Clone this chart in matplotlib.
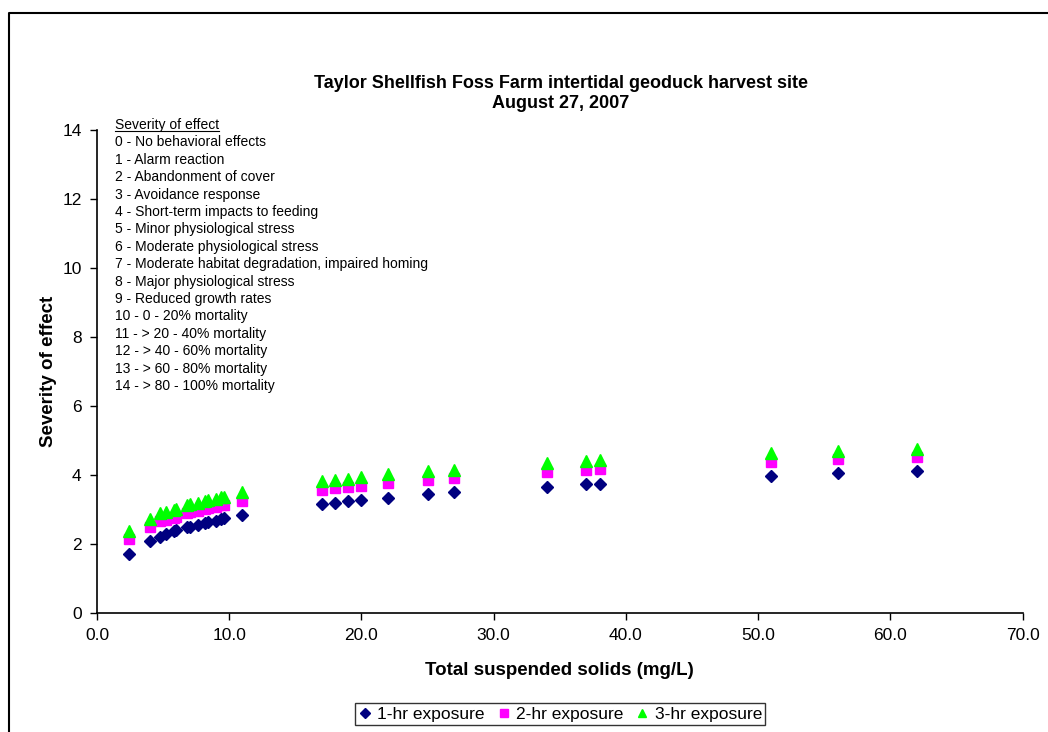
import matplotlib.pyplot as plt
from matplotlib.lines import Line2D

plt.rcParams['font.family'] = ['Liberation Sans', 'DejaVu Sans']

# Total suspended solids (mg/L)
tss = [2.4, 4.0, 4.8, 5.2, 5.8, 6.0, 6.8, 7.0, 7.6, 8.2, 8.4, 9.0, 9.4, 9.6, 11.0,
       17, 18, 19, 20, 22, 25, 27, 34, 37, 38, 51, 56, 62]

# Severity of effect for each exposure duration
sev_1hr = [1.70, 2.08, 2.20, 2.27, 2.37, 2.40, 2.48, 2.50, 2.55, 2.61, 2.63, 2.67, 2.72, 2.74, 2.83,
           3.14, 3.19, 3.23, 3.27, 3.34, 3.43, 3.49, 3.65, 3.72, 3.74, 3.96, 4.04, 4.11]
sev_2hr = [2.13, 2.49, 2.65, 2.69, 2.76, 2.78, 2.90, 2.92, 2.96, 3.02, 3.04, 3.07, 3.11, 3.13, 3.25,
           3.57, 3.61, 3.65, 3.68, 3.76, 3.86, 3.92, 4.08, 4.15, 4.17, 4.38, 4.45, 4.52]
sev_3hr = [2.37, 2.72, 2.88, 2.92, 2.99, 3.02, 3.13, 3.15, 3.19, 3.25, 3.27, 3.31, 3.35, 3.37, 3.49,
           3.81, 3.86, 3.89, 3.93, 4.01, 4.10, 4.15, 4.33, 4.40, 4.43, 4.62, 4.70, 4.76]

severity_key = [
    "0 - No behavioral effects",
    "1 - Alarm reaction",
    "2 - Abandonment of cover",
    "3 - Avoidance response",
    "4 - Short-term impacts to feeding",
    "5 - Minor physiological stress",
    "6 - Moderate physiological stress",
    "7 - Moderate habitat degradation, impaired homing",
    "8 - Major physiological stress",
    "9 - Reduced growth rates",
    "10 - 0 - 20% mortality",
    "11 - > 20 - 40% mortality",
    "12 - > 40 - 60% mortality",
    "13 - > 60 - 80% mortality",
    "14 - > 80 - 100% mortality",
]

W, H = 1048, 732
fig = plt.figure(figsize=(W / 100, H / 100), dpi=100)
# plot area in pixels: x 97..1022.7, y 130..612.7
ax = fig.add_axes([97 / W, 1 - 612.7 / H, (1022.7 - 97) / W, (612.7 - 130) / H])

ax.plot(tss, sev_1hr, ls='none', marker='D', ms=6.3, color='#000080', label='1-hr exposure')
ax.plot(tss, sev_2hr, ls='none', marker='s', ms=6.8, color='#FF00FF', label='2-hr exposure')
ax.plot(tss, sev_3hr, ls='none', marker='^', ms=8, color='#00FF00', label='3-hr exposure')

ax.set_xlim(0, 70)
ax.set_ylim(0, 14)
ax.set_xticks(range(0, 71, 10))
ax.set_xticklabels([f"{v:.1f}" for v in range(0, 71, 10)])
ax.set_yticks(range(0, 15, 2))
ax.tick_params(labelsize=12.5, direction='out', length=5, width=1, pad=6)
for side in ['top', 'right']:
    ax.spines[side].set_visible(False)
for side in ['left', 'bottom']:
    ax.spines[side].set_linewidth(1.2)

ax.set_xlabel("Total suspended solids (mg/L)", fontsize=13.5, fontweight='bold', labelpad=14)
ax.set_ylabel("Severity of effect", fontsize=13.5, fontweight='bold', labelpad=4)

fig.text(0.535, 1 - 83 / H, "Taylor Shellfish Foss Farm intertidal geoduck harvest site",
         ha='center', va='center', fontsize=13, fontweight='bold')
fig.text(0.535, 1 - 103 / H, "August 27, 2007",
         ha='center', va='center', fontsize=13, fontweight='bold')

# severity key text block
x_txt = 115 / W
line_h = 17.4
hdr = fig.text(x_txt, 1 - 125 / H, "Severity of effect", ha='left', va='center', fontsize=10)
for i, s in enumerate(severity_key):
    fig.text(x_txt, 1 - (125 + line_h * (i + 1)) / H, s, ha='left', va='center', fontsize=10)

fig.canvas.draw()
bb = hdr.get_window_extent()
fig.add_artist(Line2D([bb.x0 / W, bb.x1 / W], [(bb.y0 + 1) / H, (bb.y0 + 1) / H],
                      transform=fig.transFigure, color='black', lw=0.8))

# outer chart border (left and top visible)
fig.add_artist(Line2D([8.5 / W, 8.5 / W, 1.0], [0.0, 1 - 12.5 / H, 1 - 12.5 / H],
                      transform=fig.transFigure, color='black', lw=1.5))

fig.legend(loc='center', bbox_to_anchor=(560 / W, 1 - 714 / H), ncol=3, fontsize=12.5,
           frameon=True, fancybox=False, edgecolor='black', handlelength=0.8,
           handletextpad=0.3, columnspacing=0.7, borderpad=0.2, markerscale=0.8)

fig.savefig("out.png", dpi=100)
